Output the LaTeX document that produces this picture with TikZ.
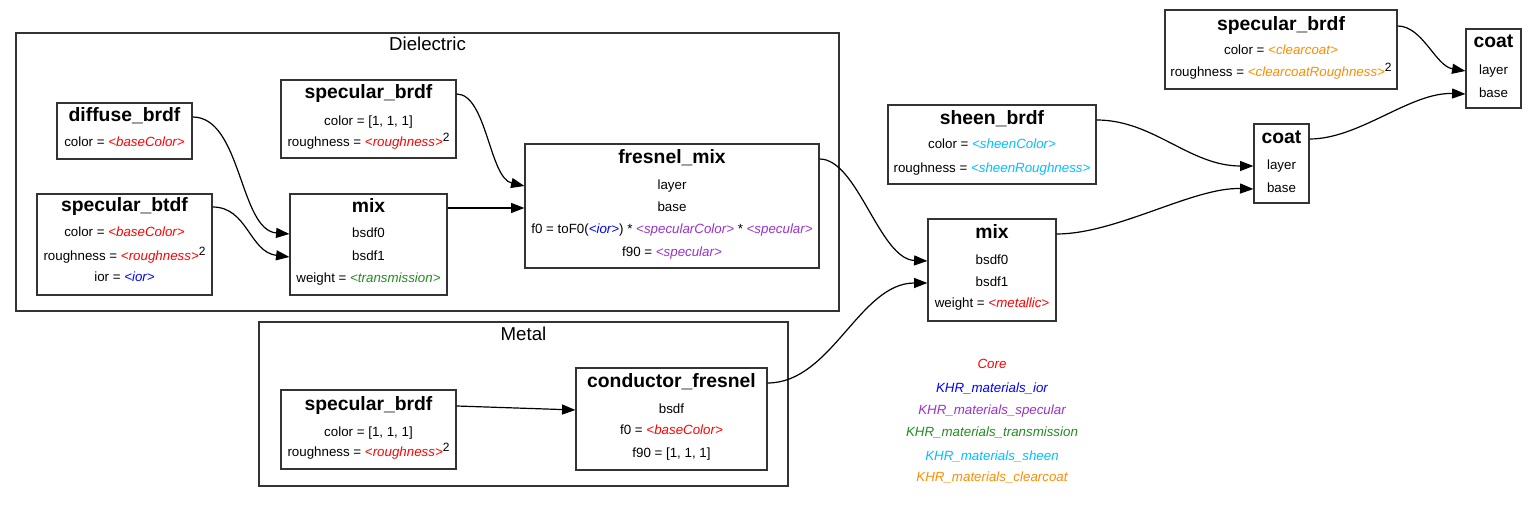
\documentclass[tikz,border=0pt]{standalone}
\usepackage{fontspec}
\setmainfont{Liberation Sans}
\usetikzlibrary{arrows.meta,fit}
\definecolor{cCore}{RGB}{255,0,0}
\definecolor{cIor}{RGB}{0,0,255}
\definecolor{cSpec}{RGB}{153,50,204}
\definecolor{cTrans}{RGB}{34,139,34}
\definecolor{cSheen}{RGB}{0,191,255}
\definecolor{cCoat}{RGB}{255,140,0}
\newcommand{\pc}[2]{\textcolor{#1}{\itshape <#2>}}
\newcommand{\sqr}{\raisebox{3.5pt}{\fontsize{9}{10}\selectfont 2}}
\begin{document}
\begin{tikzpicture}[x=0.75pt,y=-0.75pt,
  box/.style={draw=black!80, line width=0.9pt, inner sep=0pt},
  cluster/.style={draw=black!80, line width=0.9pt, inner sep=0pt},
  clabel/.style={font=\fontsize{14}{16}\selectfont, inner sep=0pt, text height=10pt, text depth=3pt},
  ttl/.style={font=\fontsize{14.5}{16}\selectfont\bfseries, inner sep=0pt, text height=10pt, text depth=3pt},
  tx/.style={font=\fontsize{10}{12}\selectfont, inner sep=0pt, text height=7pt, text depth=2pt},
  lg/.style={font=\fontsize{10}{12}\selectfont\itshape, inner sep=0pt, text height=7pt, text depth=2pt},
  edge/.style={draw=black, line width=0.9pt, -{Triangle[length=10pt,width=7.5pt]}}]
\useasboundingbox (0,0) rectangle (1537,505);

% clusters
\node[cluster, fit={(16,33) (839,311)}] (diel) {};
\node[clabel] (diel-l) at (427.5,46) {Dielectric};
\node[cluster, fit={(259,322) (788,486)}] (metal) {};
\node[clabel] (metal-l) at (523.5,336) {Metal};

% diffuse_brdf
\node[box, fit={(57,103) (192,159)}] (diff) {};
\node[ttl] (diff-t) at (124.5,117) {diffuse\_brdf};
\node[tx] (diff-c) at (124.5,143) {color = \pc{cCore}{baseColor}};

% specular_btdf
\node[box, fit={(37,194) (212,295)}] (sbt) {};
\node[ttl] (sbt-t) at (124.5,207) {specular\_btdf};
\node[tx] (sbt-c) at (124.5,233) {color = \pc{cCore}{baseColor}};
\node[tx] (sbt-r) at (124.5,257) {roughness = \pc{cCore}{roughness}\sqr};
\node[tx] (sbt-i) at (124.5,278) {ior = \pc{cIor}{ior}};

% specular_brdf (dielectric)
\node[box, fit={(281,80) (456,158)}] (sb1) {};
\node[ttl] (sb1-t) at (368.5,94) {specular\_brdf};
\node[tx] (sb1-c) at (368.5,122) {color = [1, 1, 1]};
\node[tx] (sb1-r) at (368.5,143) {roughness = \pc{cCore}{roughness}\sqr};

% mix (dielectric)
\node[box, fit={(290,194) (447,295)}] (mix1) {};
\node[ttl] (mix1-t) at (368.5,208) {mix};
\node[tx] (mix1-b0) at (368.5,234) {bsdf0};
\node[tx] (mix1-b1) at (368.5,257) {bsdf1};
\node[tx] (mix1-w) at (368.5,279) {weight = \pc{cTrans}{transmission}};

% fresnel_mix
\node[box, fit={(525,144) (819,268)}] (fm) {};
\node[ttl] (fm-t) at (672,159) {fresnel\_mix};
\node[tx] (fm-l) at (672,186) {layer};
\node[tx] (fm-b) at (672,208) {base};
\node[tx] (fm-f0) at (672,230) {f0 = toF0(\pc{cIor}{ior}) * \pc{cSpec}{specularColor} * \pc{cSpec}{specular}};
\node[tx] (fm-f90) at (672,253) {f90 = \pc{cSpec}{specular}};

% specular_brdf (metal)
\node[box, fit={(281,390) (456,469)}] (sb2) {};
\node[ttl] (sb2-t) at (368.5,406) {specular\_brdf};
\node[tx] (sb2-c) at (368.5,433) {color = [1, 1, 1]};
\node[tx] (sb2-r) at (368.5,453) {roughness = \pc{cCore}{roughness}\sqr};

% conductor_fresnel
\node[box, fit={(576,368) (767,470)}] (cf) {};
\node[ttl] (cf-t) at (671.5,383) {conductor\_fresnel};
\node[tx] (cf-b) at (671.5,410) {bsdf};
\node[tx] (cf-f0) at (671.5,431) {f0 = \pc{cCore}{baseColor}};
\node[tx] (cf-f90) at (671.5,454) {f90 = [1, 1, 1]};

% mix (outer)
\node[box, fit={(928,219) (1056,321)}] (mix2) {};
\node[ttl] (mix2-t) at (992,234) {mix};
\node[tx] (mix2-b0) at (992,261) {bsdf0};
\node[tx] (mix2-b1) at (992,283) {bsdf1};
\node[tx] (mix2-w) at (992,304) {weight = \pc{cCore}{metallic}};

% sheen_brdf
\node[box, fit={(888,105) (1096,184)}] (sh) {};
\node[ttl] (sh-t) at (992,120) {sheen\_brdf};
\node[tx] (sh-c) at (992,145) {color = \pc{cSheen}{sheenColor}};
\node[tx] (sh-r) at (992,169) {roughness = \pc{cSheen}{sheenRoughness}};

% coat (middle)
\node[box, fit={(1254,124) (1309,203)}] (c1) {};
\node[ttl] (c1-t) at (1281.5,139) {coat};
\node[tx] (c1-l) at (1281.5,166) {layer};
\node[tx] (c1-b) at (1281.5,189) {base};

% specular_brdf (clearcoat)
\node[box, fit={(1165,10) (1397,89)}] (sb3) {};
\node[ttl] (sb3-t) at (1281,26) {specular\_brdf};
\node[tx] (sb3-c) at (1281,51) {color = \pc{cCoat}{clearcoat}};
\node[tx] (sb3-r) at (1281,73) {roughness = \pc{cCoat}{clearcoatRoughness}\sqr};

% coat (right)
\node[box, fit={(1466,29) (1521,108)}] (c2) {};
\node[ttl] (c2-t) at (1493.5,43) {coat};
\node[tx] (c2-l) at (1493.5,71) {layer};
\node[tx] (c2-b) at (1493.5,94) {base};

% legend
\node[lg, text=cCore] (lg1) at (992,365) {Core};
\node[lg, text=cIor] (lg2) at (992,389) {KHR\_materials\_ior};
\node[lg, text=cSpec] (lg3) at (992,411) {KHR\_materials\_specular};
\node[lg, text=cTrans] (lg4) at (992,433) {KHR\_materials\_transmission};
\node[lg, text=cSheen] (lg5) at (992,457) {KHR\_materials\_sheen};
\node[lg, text=cCoat] (lg6) at (992,478) {KHR\_materials\_clearcoat};

% edges
\draw[edge] (diff.east |- diff-t) .. controls +(49,0) and +(-50,-4) .. (mix1.west |- mix1-b0);
\draw[edge] (sbt.east |- sbt-t) .. controls +(35,0) and +(-40,-5) .. (mix1.west |- mix1-b1);
\draw[edge] (sb1.east |- sb1-t) .. controls +(30,0) and +(-35,-8) .. (fm.west |- fm-l);
\draw[edge] (mix1.east |- fm-b) -- (fm.west |- fm-b);
\draw[edge] (fm.east |- fm-t) .. controls +(38,0) and +(-48,-2) .. (mix2.west |- mix2-b0);
\draw[edge] (cf.east |- cf-t) .. controls +(64,0) and +(-68,0) .. (mix2.west |- mix2-b1);
\draw[edge] (sb2.east |- sb2-t) -- (cf.west |- cf-b);
\draw[edge] (sh.east |- sh-t) .. controls +(57,0) and +(-64,0) .. (c1.west |- c1-l);
\draw[edge] (mix2.east |- mix2-t) .. controls +(60,0) and +(-60,-2) .. (c1.west |- c1-b);
\draw[edge] (sb3.east |- sb3-t) .. controls +(25,0) and +(-30,-5) .. (c2.west |- c2-l);
\draw[edge] (c1.east |- c1-t) .. controls +(50,0) and +(-55,-2) .. (c2.west |- c2-b);
\end{tikzpicture}
\end{document}
